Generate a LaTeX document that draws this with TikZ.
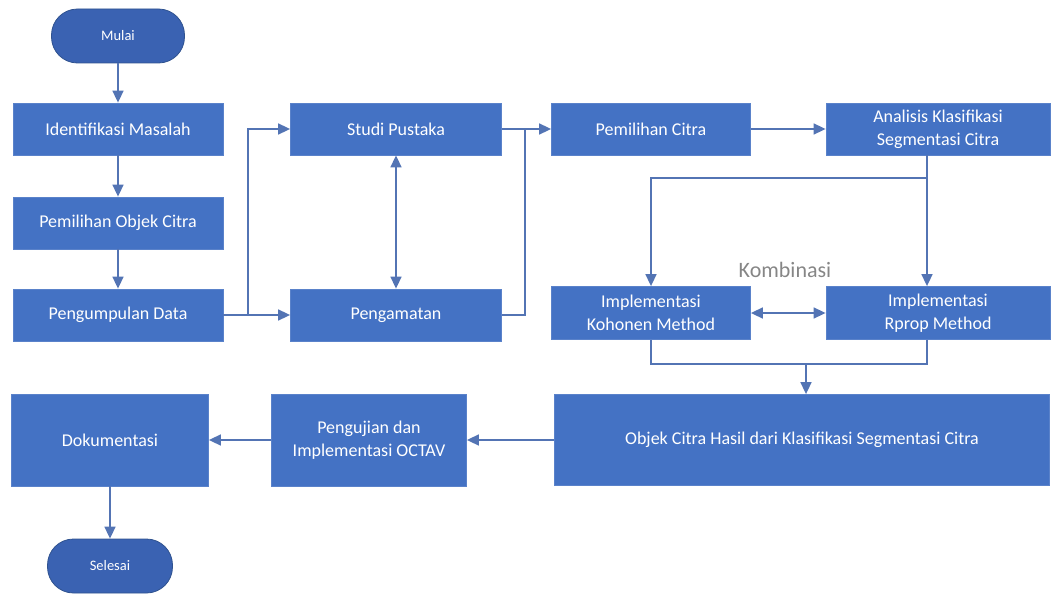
\documentclass[tikz,border=0pt]{standalone}
\usepackage{fontspec}
\setmainfont{Carlito}
\usetikzlibrary{arrows.meta}
\definecolor{boxblue}{HTML}{4472C4}
\definecolor{boxedge}{HTML}{5A82CA}
\definecolor{termblue}{HTML}{3A62B2}
\definecolor{termedge}{HTML}{2F528F}
\definecolor{linkblue}{HTML}{5374B4}
\tikzset{
  procbox/.style={rectangle, fill=boxblue, draw=boxedge, line width=0.8pt,
    text=white, align=center, font=\fontsize{18}{23}\selectfont, inner sep=2pt},
  termbox/.style={rectangle, rounded corners=26pt, fill=termblue, draw=termedge,
    line width=0.8pt, text=white, font=\fontsize{14.5}{17}\selectfont},
  link/.style={draw=linkblue, line width=1.6pt, -{Triangle[length=12pt,width=11pt]}},
  twolink/.style={draw=linkblue, line width=1.6pt,
    {Triangle[length=12pt,width=11pt]}-{Triangle[length=12pt,width=11pt]}},
  plain/.style={draw=linkblue, line width=1.6pt}
}
\begin{document}
\begin{tikzpicture}[x=1pt,y=-1pt]
\useasboundingbox (0,0) rectangle (1053,594);

% left column
\node[termbox, minimum width=133pt, minimum height=54pt] (mulai) at (118,36) {Mulai};
\node[procbox, minimum width=210pt, minimum height=52pt] (ident) at (118,129) {Identifikasi Masalah};
\node[procbox, minimum width=210pt, minimum height=52pt] (objek) at (118,223) {Pemilihan Objek Citra};
\node[procbox, minimum width=210pt, minimum height=52pt] (kumpul) at (118,315) {Pengumpulan Data};

% middle column
\node[procbox, minimum width=211pt, minimum height=52pt] (studi) at (396,129) {Studi Pustaka};
\node[procbox, minimum width=211pt, minimum height=52pt] (amati) at (396,315) {Pengamatan};

% right part
\node[procbox, minimum width=199pt, minimum height=52pt] (pilih) at (651,129) {Pemilihan Citra};
\node[procbox, minimum width=224pt, minimum height=52pt] (analisis) at (938,129) {Analisis Klasifikasi\\Segmentasi Citra};
\node[procbox, minimum width=199pt, minimum height=53pt] (kohonen) at (651,313) {Implementasi\\Kohonen Method};
\node[procbox, minimum width=224pt, minimum height=53pt] (rprop) at (938,313) {Implementasi\\Rprop Method};
\node[text=gray!95, font=\fontsize{22}{26}\selectfont] (kombinasi) at (785,270) {Kombinasi};

% bottom row
\node[procbox, minimum width=495pt, minimum height=91pt] (hasil) at (802,440) {Objek Citra Hasil dari Klasifikasi Segmentasi Citra};
\node[procbox, minimum width=195pt, minimum height=92pt] (uji) at (369,440) {Pengujian dan\\Implementasi OCTAV};
\node[procbox, minimum width=197pt, minimum height=92pt] (dok) at (110,440) {Dokumentasi};
\node[termbox, minimum width=125pt, minimum height=54pt] (selesai) at (110,566) {Selesai};

% helper points
\coordinate (pisah) at (248,315);
\coordinate (gabung) at (525,129);
\coordinate (cabang) at (927,178);
\coordinate (temu) at (806,364);

% connectors
\draw[link] (mulai) -- (ident);
\draw[link] (ident) -- (objek);
\draw[link] (objek) -- (kumpul);
\draw[link] (kumpul) -- (amati);
\draw[link] (pisah) |- (studi.west);
\draw[twolink] (studi) -- (amati);
\draw[link] (studi) -- (pilih);
\draw[plain] (amati.east) -| (gabung);
\draw[link] (pilih) -- (analisis);
\draw[link] (analisis.south -| cabang) -- (rprop.north -| cabang);
\draw[link] (cabang) -| (kohonen.north);
\draw[twolink] (kohonen) -- (rprop);
\draw[plain] (kohonen.south) |- (temu);
\draw[plain] (rprop.south -| cabang) |- (temu);
\draw[link] (temu) -- (hasil.north -| temu);
\draw[link] (hasil) -- (uji);
\draw[link] (uji) -- (dok);
\draw[link] (dok) -- (selesai);
\end{tikzpicture}
\end{document}
